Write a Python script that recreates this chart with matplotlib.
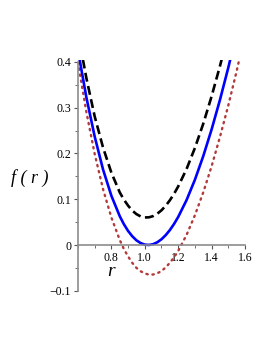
import matplotlib
matplotlib.use("Agg")
import matplotlib.pyplot as plt
from matplotlib.ticker import MultipleLocator

# values
r = [0.60, 0.65, 0.70, 0.75, 0.80, 0.85, 0.875, 0.90, 0.925, 0.95, 0.975, 1.00,
     1.025, 1.05, 1.075, 1.10, 1.125, 1.15, 1.175, 1.20, 1.25, 1.30, 1.35, 1.40,
     1.45, 1.50, 1.55, 1.60]
f_solid = [0.425, 0.323, 0.237, 0.165, 0.1075, 0.063, 0.0453, 0.0307, 0.0191, 0.0102,
           0.0042, 0.0008, 0.0001, 0.0018, 0.0060, 0.0126, 0.0215, 0.0326, 0.0459,
           0.0613, 0.0981, 0.1426, 0.1942, 0.2525, 0.3171, 0.3876, 0.4635, 0.54]
f_dash = [0.463, 0.365, 0.281, 0.213, 0.158, 0.115, 0.0991, 0.086, 0.0752, 0.0675,
          0.0625, 0.0602, 0.0605, 0.0632, 0.0684, 0.0759, 0.0857, 0.0977, 0.1118,
          0.128, 0.166, 0.212, 0.265, 0.325, 0.391, 0.462, 0.54, 0.62]
f_dot = [0.399, 0.291, 0.199, 0.122, 0.060, 0.011, -0.0089, -0.025, -0.039, -0.050,
         -0.0574, -0.062, -0.0648, -0.0645, -0.0618, -0.057, -0.0489, -0.039, -0.0269,
         -0.013, 0.022, 0.065, 0.115, 0.172, 0.236, 0.305, 0.380, 0.461]

xticks = [0.8, 1.0, 1.2, 1.4, 1.6]
xlabels = ["0.8", "1.0", "1.2", "1.4", "1.6"]
yticks = [-0.1, 0, 0.1, 0.2, 0.3, 0.4]
ylabels = ["\u22120.1", "0", "0.1", "0.2", "0.3", "0.4"]

fig = plt.figure(figsize=(2.73, 3.53), dpi=100)
ax = fig.add_axes([0.2857, 0.1763, 0.6117, 0.6546])

ax.plot(r, f_dot, color="#b23a3a", lw=1.7, linestyle=(0, (0.6, 2.0)), dash_capstyle="round")
ax.plot(r, f_solid, color="#0000ff", lw=1.9)
ax.plot(r, f_dash, color="black", lw=1.9, linestyle=(0, (3.4, 1.7)))

ax.set_xlim(0.6, 1.6)
ax.set_ylim(-0.1, 0.405)

# maple style axes: crossing at r=0.6 and f=0
for s in ["top", "right"]:
    ax.spines[s].set_visible(False)
ax.spines["bottom"].set_position(("data", 0))
for s in ["left", "bottom"]:
    ax.spines[s].set_color("#8c8c8c")
    ax.spines[s].set_linewidth(1.2)
ax.spines["left"].set_bounds(-0.1, 0.4)

ax.set_xticks(xticks)
ax.set_xticklabels(xlabels)
ax.set_yticks(yticks)
ax.set_yticklabels(ylabels)
ax.xaxis.set_minor_locator(MultipleLocator(0.1))
ax.yaxis.set_minor_locator(MultipleLocator(0.05))
ax.tick_params(which="major", length=3, width=0.8, color="#555555", pad=2)
ax.tick_params(which="minor", length=2, width=0.6, color="#555555")
for lab in ax.get_xticklabels() + ax.get_yticklabels():
    lab.set_family("Liberation Serif")
    lab.set_fontsize(8.5)

fig.text(0.11, 0.497, "f ( r )", fontsize=13, family="Liberation Serif",
         style="italic", ha="center", va="center")
ax.text(0.80, -0.057, "r", fontsize=14, family="Liberation Serif", style="italic",
        ha="center", va="center")

fig.savefig("out.png", dpi=100)
